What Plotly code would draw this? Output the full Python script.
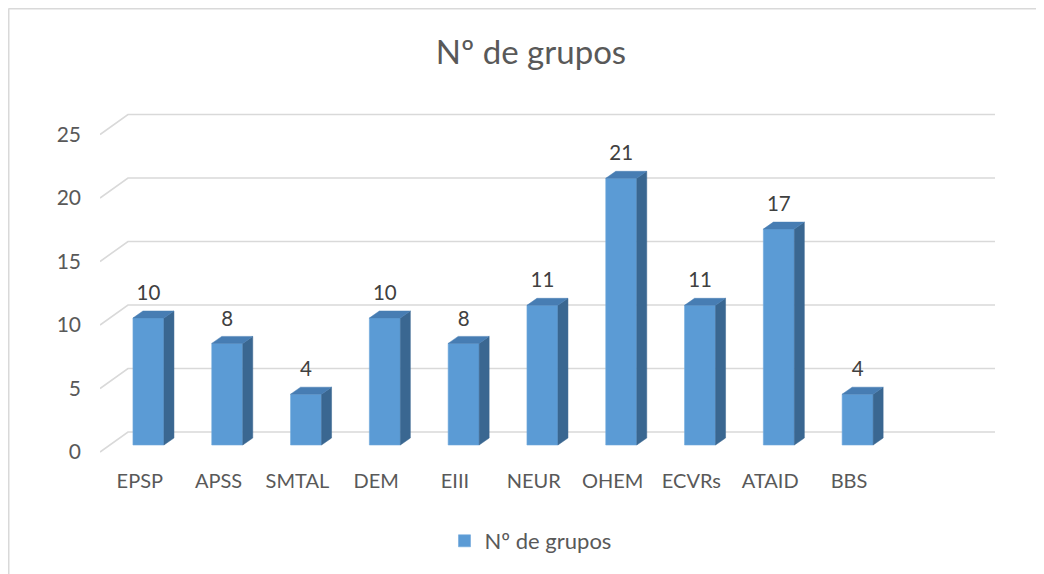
import plotly.graph_objects as go

# ---- data ----
categories = ["EPSP", "APSS", "SMTAL", "DEM", "EIII", "NEUR", "OHEM", "ECVRs", "ATAID", "BBS"]
values = [10, 8, 4, 10, 8, 11, 21, 11, 17, 4]
series_name = "Nº de grupos"
title_text = "Nº de grupos"
y_ticks = [0, 5, 10, 15, 20, 25]

# ---- styling / geometry constants ----
FONT = "Lato"
TXT = "#595959"
GRID = "#D9D9D9"
FRONT = "#5B9BD5"
SIDE = "#3A6791"
TOP = "#477DB3"
PX_X = 78.8          # px per category
PX_Y = 12.7          # px per value unit
BAR_W = 31 / PX_X
DX = 10 / PX_X       # depth offset x
DY = 7 / PX_Y        # depth offset y
BACK_DY = 13 / PX_Y  # back wall offset
FRONT_DY = -7 / PX_Y # front floor edge offset
X0, X1 = -0.615, 10.743
XB = -0.26           # back wall start
Y0, Y1 = -1.181, 27.165

# page body has an 8px margin: figure is sized/offset to compensate
W, H = 1036, 566
ML, MR, MT, MB = 92, 49, 92, 114
PW, PH = W - ML - MR, H - MT - MB

idx = list(range(len(categories)))

fig = go.Figure()

# gridlines in perspective (behind the bars)
shapes = []
for v in y_ticks:
    shapes.append(dict(type="path", xref="x", yref="y", layer="below",
                       path=f"M {X0},{v + FRONT_DY} L {XB},{v + BACK_DY} L {X1},{v + BACK_DY}",
                       line=dict(color=GRID, width=1.6)))

# chart-area border (top and left visible)
bx = (0.5 - ML) / PW
by = (MT + PH - 0.5) / PH
shapes += [
    dict(type="line", xref="paper", yref="paper", x0=bx, x1=1.2, y0=by, y1=by,
         line=dict(color=GRID, width=2)),
    dict(type="line", xref="paper", yref="paper", x0=bx, x1=bx, y0=by, y1=-0.5,
         line=dict(color=GRID, width=2)),
]

# front faces
fig.add_trace(go.Bar(x=idx, y=values, width=BAR_W, name=series_name,
                     marker=dict(color=FRONT, line=dict(color="#6FA8DC", width=0.6)),
                     hoverinfo="x+y"))

# side and top faces
sx, sy = [], []
tx, ty = [], []
for i, v in zip(idx, values):
    xl, xr = i - BAR_W / 2, i + BAR_W / 2
    sx += [xr, xr + DX, xr + DX, xr, xr, None]
    sy += [0, DY, v + DY, v, 0, None]
    tx += [xl, xl + DX, xr + DX, xr, xl, None]
    ty += [v, v + DY, v + DY, v, v, None]
fig.add_trace(go.Scatter(x=sx, y=sy, mode="lines", fill="toself", fillcolor=SIDE,
                         line=dict(color=SIDE, width=0.5), hoverinfo="skip", showlegend=False))
fig.add_trace(go.Scatter(x=tx, y=ty, mode="lines", fill="toself", fillcolor=TOP,
                         line=dict(color=TOP, width=0.5), hoverinfo="skip", showlegend=False))

# data labels
fig.add_trace(go.Scatter(x=idx, y=[v + 23 / PX_Y for v in values], mode="text",
                         text=[str(v) for v in values], textposition="middle center",
                         textfont=dict(family=FONT, size=20.5, color="#404040"),
                         hoverinfo="skip", showlegend=False))

fig.update_layout(
    width=W, height=H,
    margin=dict(l=ML, r=MR, t=MT, b=MB, autoexpand=False),
    paper_bgcolor="white", plot_bgcolor="white",
    title=dict(text=title_text, x=523 / W, xanchor="center", xref="container",
               y=1 - 44 / H, yanchor="middle", yref="container",
               font=dict(family=FONT, size=33, color=TXT)),
    font=dict(family=FONT, color=TXT),
    xaxis=dict(range=[X0, X1], showgrid=False, zeroline=False, showline=False,
               tickmode="array", tickvals=[i - 0.11 for i in idx], ticktext=categories,
               ticks="", tickfont=dict(family=FONT, size=20, color=TXT), ticklabelstandoff=7,
               fixedrange=True),
    yaxis=dict(range=[Y0, Y1], showgrid=False, zeroline=False, showline=False,
               tickmode="array", tickvals=[v + FRONT_DY for v in y_ticks],
               ticktext=[str(v) for v in y_ticks], ticks="",
               tickfont=dict(family=FONT, size=21, color=TXT), ticklabelstandoff=18,
               fixedrange=True),
    showlegend=True,
    legend=dict(orientation="h", x=0.481, xanchor="center", y=-0.225, yanchor="middle",
                font=dict(family=FONT, size=22, color=TXT), bgcolor="rgba(0,0,0,0)"),
    shapes=shapes,
)

fig.write_html("out.html")
